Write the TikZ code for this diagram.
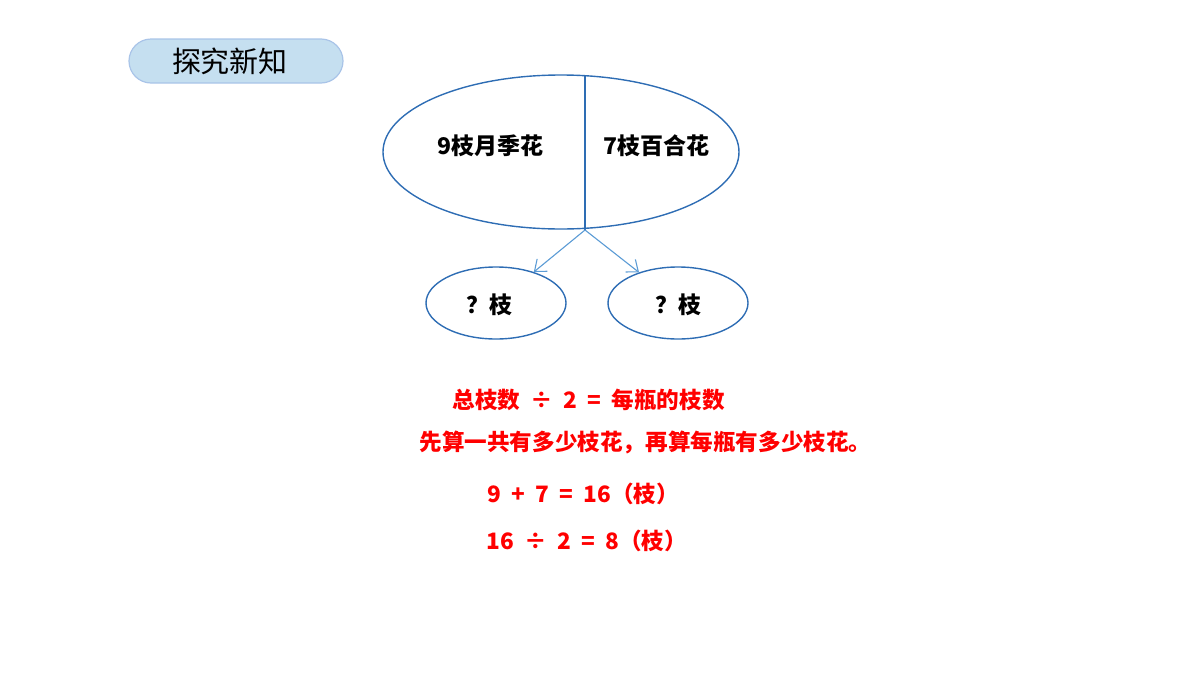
\documentclass[tikz,border=0pt]{standalone}
\usepackage{fontspec}
\setmainfont{Noto Sans CJK SC}
\usetikzlibrary{shapes.geometric,arrows.meta}
\definecolor{ebl}{HTML}{2E6DB4}
\definecolor{abl}{HTML}{5B9BD5}
\definecolor{tfill}{HTML}{C5DFF0}
\definecolor{tborder}{HTML}{A9C4E8}
\tikzset{
  oval/.style={ellipse, draw=ebl, line width=0.7pt, inner sep=0pt},
  lbl/.style={font=\fontsize{11.5}{12}\selectfont\bfseries, text=black},
  red/.style={font=\fontsize{11.3}{12}\selectfont\bfseries, text=red, anchor=west, inner sep=0pt},
  arr/.style={draw=abl, line width=0.55pt, -{Straight Barb[length=5pt,width=8pt]}}
}
\begin{document}
\begin{tikzpicture}[x=0.5pt,y=-0.5pt]
\useasboundingbox (0,0) rectangle (1200,675);
% title
\node[draw=tborder, fill=tfill, rounded corners=11pt, line width=0.6pt,
      minimum width=107pt, minimum height=22pt, inner sep=0pt,
      font=\fontsize{14.5}{15}\selectfont] (title) at (236,61) {\hspace*{-6pt}探究新知};
% big ellipse
\node[oval, minimum width=178pt, minimum height=77pt] (big) at (561,152) {};
\coordinate (stop) at (585,76);
\coordinate (split) at (585,230);
\draw[draw=ebl, line width=0.6pt] (stop) -- (split);
\node[lbl] (a) at (490,146) {9枝月季花};
\node[lbl] (b) at (656,146) {7枝百合花};
% small ellipses
\node[oval, minimum width=70pt, minimum height=36pt] (sl) at (496,303) {};
\node[oval, minimum width=70pt, minimum height=36pt] (sr) at (678,303) {};
\node[lbl] (ql) at (489,305) {？枝};
\node[lbl] (qr) at (678,305) {？枝};
\draw[arr] (split) -- (sl);
\draw[arr] (split) -- (sr);
% red text
\node[red] (r1) at (452,400) {总枝数\ \ ÷\ \ 2\ \ =\ \ 每瓶的枝数};
\node[red] (r2) at (419,442) {先算一共有多少枝花，再算每瓶有多少枝花。};
\node[red] (r3) at (487,494) {9\ \ +\ \ 7\ \ =\ \ 16（枝）};
\node[red] (r4) at (486,541) {16\ \ ÷\ \ 2\ \ =\ \ 8（枝）};
\end{tikzpicture}
\end{document}
